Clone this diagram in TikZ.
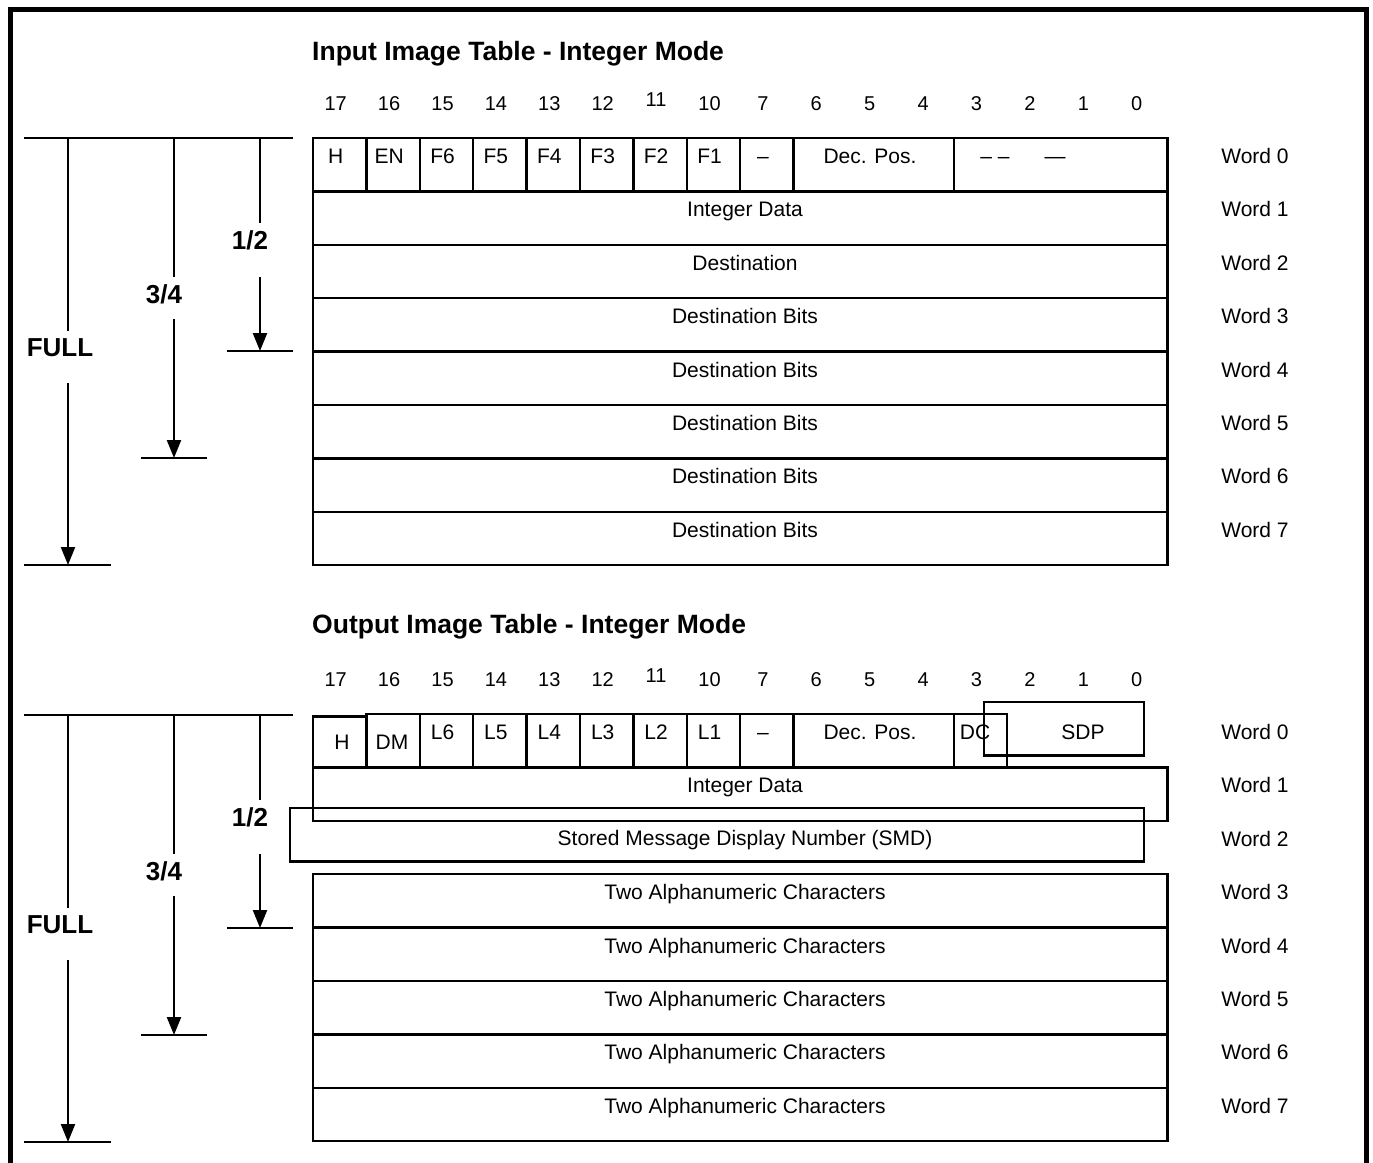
\documentclass[tikz,border=0pt]{standalone}
\usepackage{fontspec}
\setmainfont{Liberation Sans}
\usetikzlibrary{arrows.meta,calc}
\begin{document}
\begin{tikzpicture}[x=1pt,y=-1pt,
 box/.style={draw, line width=2.3pt, inner sep=0pt, outer sep=0pt, anchor=north west},
 bodytxt/.style={font=\fontsize{21}{24}\selectfont, inner sep=0pt, text height=15pt, text depth=0pt},
 bittxt/.style={font=\fontsize{20}{22}\selectfont, inner sep=0pt, text height=14pt, text depth=0pt},
 ttltxt/.style={font=\bfseries\fontsize{26.5}{30}\selectfont, inner sep=0pt, text height=18.6pt, text depth=0pt, anchor=west},
 fractxt/.style={font=\bfseries\fontsize{26}{30}\selectfont, inner sep=0pt, text height=18.6pt, text depth=0pt},
 rule/.style={line width=2.3pt},
 arr/.style={line width=2.3pt, -{Triangle[length=18pt,width=14pt]}},
]
\useasboundingbox (0,0) rectangle (1373,1162);
% frame
\draw[line width=5pt] (10,1180) -- (10,9) -- (1366,9) -- (1366,1180);

% ---------- titles ----------
\node[ttltxt] (ttlin) at (312,51) {Input Image Table - Integer Mode};
\node[ttltxt] (ttlout) at (312,624) {Output Image Table - Integer Mode};

% ---------- bit numbers ----------
\foreach \b/\dy [count=\k from 0] in {17/0,16/0,15/0,14/0,13/0,12/0,11/-4,10/0,7/0,6/0,5/0,4/0,3/0,2/0,1/0,0/0} {
  \node[bittxt] (ib\k) at ({335.7+53.4*\k},{103+\dy}) {\b};
  \node[bittxt] (ob\k) at ({335.7+53.4*\k},{679+\dy}) {\b};
}

% ---------- word labels ----------
\foreach \k in {0,...,7} {
  \node[bodytxt] (iw\k) at (1255,{156+53.4*\k}) {Word \k};
  \node[bodytxt] (ow\k) at (1255,{732+53.4*\k}) {Word \k};
}

% ---------- input table ----------
\foreach \t [count=\k from 0] in {H,EN,F6,F5,F4,F3,F2,F1,–} {
  \node[box, minimum width=53.4pt, minimum height=53.4pt] (ic\k) at ({313+53.4*\k},138) {};
  \node[bodytxt] (it\k) at ({335.7+53.4*\k},156) {\t};
}
\node[box, minimum width=160.2pt, minimum height=53.4pt] (idp) at (793.6,138) {};
\node[bodytxt] (idpt) at (870,156) {Dec. Pos.};
\node[box, minimum width=213.6pt, minimum height=53.4pt] (ilast) at (953.8,138) {};
\node[bodytxt] (ilasta) at (995,156) {– –};
\node[bodytxt] (ilastb) at (1055,156) {—};
\foreach \t [count=\k from 1] in {Integer Data,Destination,Destination Bits,Destination Bits,Destination Bits,Destination Bits,Destination Bits} {
  \node[box, minimum width=854.4pt, minimum height=53.4pt] (ir\k) at (313,{138+53.4*\k}) {};
  \node[bodytxt] (irt\k) at (745,{156+53.4*\k}) {\t};
}

% ---------- output table ----------
\node[box, minimum width=53.4pt, minimum height=50.9pt] (oH) at (313,716.5) {};
\node[bodytxt] (oHt) at (342,742) {H};
\node[box, minimum width=53.4pt, minimum height=53.4pt] (oDM) at (366.4,714) {};
\node[bodytxt] (oDMt) at (392,742) {DM};
\foreach \t [count=\k from 2] in {L6,L5,L4,L3,L2,L1,–} {
  \node[box, minimum width=53.4pt, minimum height=53.4pt] (oc\k) at ({313+53.4*\k},714) {};
  \node[bodytxt] (ot\k) at ({335.7+53.4*\k},732) {\t};
}
\node[box, minimum width=160.2pt, minimum height=53.4pt] (odp) at (793.6,714) {};
\node[bodytxt] (odpt) at (870,732) {Dec. Pos.};
\node[box, minimum width=53.4pt, minimum height=53.4pt] (odc) at (953.8,714) {};
\node[bodytxt] (odct) at (975,732) {DC};
\node[box, minimum width=160pt, minimum height=53.4pt] (osdp) at (984,702) {};
\node[bodytxt] (osdpt) at (1083,732) {SDP};
\node[box, minimum width=854.4pt, minimum height=53.4pt] (or1) at (313,767.4) {};
\node[bodytxt] (ort1) at (745,785) {Integer Data};
\node[box, minimum width=854pt, minimum height=53.4pt] (or2) at (290,808) {};
\node[bodytxt] (ort2) at (745,838) {Stored Message Display Number (SMD)};
\foreach \k in {3,...,7} {
  \node[box, minimum width=854.4pt, minimum height=53.4pt] (or\k) at (313,{714+53.4*\k}) {};
  \node[bodytxt] (ort\k) at (745,{732+53.4*\k}) {Two Alphanumeric Characters};
}

% ---------- left size indicators ----------
\foreach \o/\s in {0/i,577/o} {
  \coordinate (\s L) at (24,{138+\o});
  \coordinate (\s R) at (293,{138+\o});
  \draw[rule] (\s L) -- (\s R);
  % 1/2
  \node[fractxt] (\s half) at (250,{240+\o}) {1/2};
  \coordinate (\s ha) at (260,{138+\o});
  \coordinate (\s hb) at (260,{223+\o});
  \coordinate (\s hc) at (260,{277+\o});
  \coordinate (\s hd) at (260,{351+\o});
  \coordinate (\s hl) at (227,{351+\o});
  \coordinate (\s hr) at (293,{351+\o});
  \draw[rule] (\s ha) -- (\s hb);
  \draw[arr] (\s hc) -- (\s hd);
  \draw[rule] (\s hl) -- (\s hr);
  % 3/4
  \node[fractxt] (\s tq) at (164,{294+\o}) {3/4};
  \coordinate (\s qa) at (174,{138+\o});
  \coordinate (\s qb) at (174,{277+\o});
  \coordinate (\s qc) at (174,{319+\o});
  \coordinate (\s qd) at (174,{458+\o});
  \coordinate (\s ql) at (141,{458+\o});
  \coordinate (\s qr) at (207,{458+\o});
  \draw[rule] (\s qa) -- (\s qb);
  \draw[arr] (\s qc) -- (\s qd);
  \draw[rule] (\s ql) -- (\s qr);
  % FULL
  \node[fractxt] (\s full) at (60,{347+\o}) {FULL};
  \coordinate (\s fa) at (68,{138+\o});
  \coordinate (\s fb) at (68,{331+\o});
  \coordinate (\s fc) at (68,{383+\o});
  \coordinate (\s fd) at (68,{565+\o});
  \coordinate (\s fl) at (24,{565+\o});
  \coordinate (\s fr) at (111,{565+\o});
  \draw[rule] (\s fa) -- (\s fb);
  \draw[arr] (\s fc) -- (\s fd);
  \draw[rule] (\s fl) -- (\s fr);
}
\end{tikzpicture}
\end{document}
